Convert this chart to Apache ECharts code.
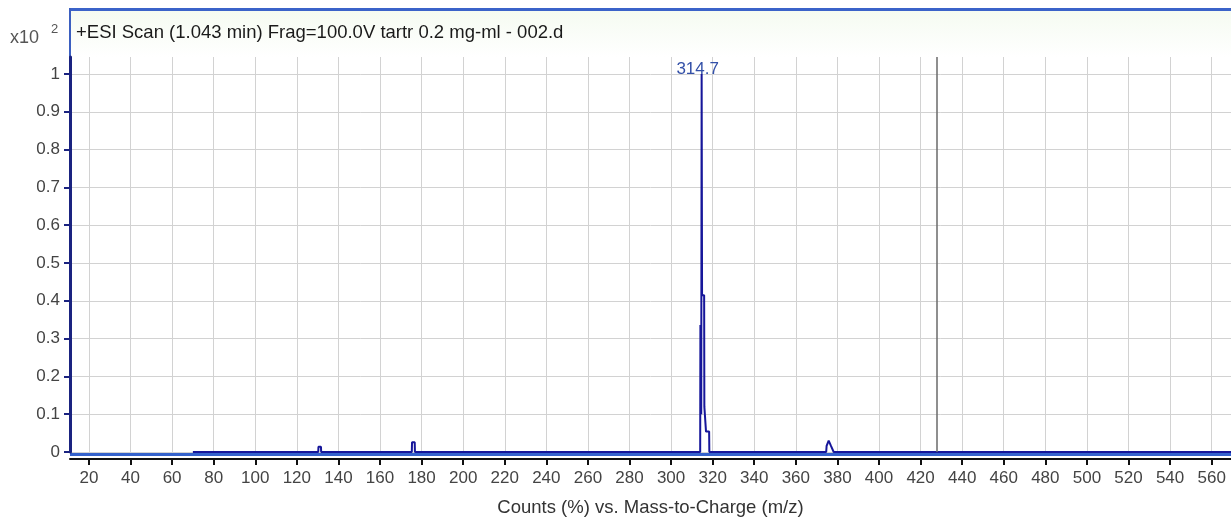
<!DOCTYPE html>
<html>
<head>
<meta charset="utf-8">
<title>ESI Scan</title>
<script src="https://cdn.jsdelivr.net/npm/echarts@6/dist/echarts.min.js"></script>
<style>
  html, body { margin: 0; padding: 0; background: #fff; }
  #chart { width: 1231px; height: 519px; }
</style>
</head>
<body>
<div id="chart"></div>
<script>
// spectrum (m/z, counts x10^2)
const mzValues = [70, 124.6, 124.7, 125.3, 125.4, 130.3, 130.4, 131.6, 131.7,
  175.3, 175.4, 176.7, 176.8, 223.6, 223.7, 224.4, 224.5, 270, 270.1, 270.9, 271,
  314.0, 314.1, 314.4, 314.5, 314.7, 314.9, 315.4, 315.9, 316.0, 316.7, 316.8, 317.6, 317.7, 318.3, 318.4,
  336.4, 336.5, 337, 337.1, 374.6, 374.8, 375.5, 375.8, 376.6, 376.9, 377.5, 377.8, 378.2, 569.3]
const intensities = [0, 0, 0.005, 0.005, 0, 0, 0.014, 0.014, 0,
  0, 0.026, 0.026, 0, 0, 0.005, 0.005, 0, 0, 0.005, 0.005, 0,
  0, 0.336, 0.336, 0.1, 1.0, 0.415, 0.415, 0.415, 0.12, 0.12, 0.054, 0.054, 0.054, 0.054, 0,
  0, 0.004, 0.004, 0, 0, 0.016, 0.016, 0.03, 0.03, 0.016, 0.016, 0.012, 0, 0]

const xTicks = [20, 40, 60, 80, 100, 120, 140, 160, 180, 200, 220, 240, 260, 280, 300,
  320, 340, 360, 380, 400, 420, 440, 460, 480, 500, 520, 540, 560]
const yTicks = [0, 0.1, 0.2, 0.3, 0.4, 0.5, 0.6, 0.7, 0.8, 0.9, 1]

const peakMz = 314.7
const peakValue = 1.0
const cursorMz = 428
const scanTitle = '+ESI Scan (1.043 min) Frag=100.0V tartr 0.2 mg-ml - 002.d'

const font = 'Liberation Sans'
const chart = echarts.init(document.getElementById('chart'))

const seriesData = mzValues.map((mz, i) => [mz, intensities[i]])

const option = {
  animation: false,
  backgroundColor: '#fff',
  grid: {
    left: 70,
    right: 0,
    top: 57,
    height: 395,
    outerBoundsMode: 'none',
    containLabel: false
  },
  xAxis: {
    type: 'value',
    min: 10.9,
    max: 569.3,
    offset: 7,
    name: 'Counts (%) vs. Mass-to-Charge (m/z)',
    nameLocation: 'middle',
    nameGap: 39,
    nameTextStyle: { color: '#333', fontSize: 18.5, fontFamily: font },
    axisLine: { show: true, onZero: false, lineStyle: { color: '#111', width: 2 } },
    axisTick: { show: true, length: 6, customValues: xTicks, lineStyle: { color: '#111', width: 2 } },
    axisLabel: {
      customValues: xTicks,
      color: '#444',
      fontSize: 17,
      fontFamily: font,
      margin: 11,
      formatter: v => String(Math.round(v))
    },
    splitLine: { show: true, lineStyle: { color: '#d2d2d2', width: 1 } }
  },
  yAxis: {
    type: 'value',
    min: 0,
    max: 1.045,
    axisLine: { show: true, lineStyle: { color: '#1a2380', width: 3 } },
    axisTick: { show: true, length: 6, customValues: yTicks, lineStyle: { color: '#1a2380', width: 2 } },
    axisLabel: {
      customValues: yTicks,
      color: '#444',
      fontSize: 17,
      fontFamily: font,
      margin: 10,
      formatter: v => String(+v.toFixed(1))
    },
    splitLine: { show: true, lineStyle: { color: '#d2d2d2', width: 1 } }
  },
  graphic: [
    // frame around the plot
    { type: 'rect', z: 0, shape: { x: 70, y: 10, width: 1161, height: 47 },
      style: { fill: new echarts.graphic.LinearGradient(0, 0, 0, 1, [
        { offset: 0, color: '#f5fbf1' }, { offset: 1, color: '#ffffff' }]) } },
    { type: 'rect', z: 0, shape: { x: 70, y: 8, width: 1161, height: 3 }, style: { fill: '#3b63c9' } },
    { type: 'rect', z: 0, shape: { x: 69, y: 8, width: 2, height: 50 }, style: { fill: '#3b5fc0' } },
    { type: 'rect', z: 0, shape: { x: 70, y: 452, width: 1161, height: 4 }, style: { fill: '#3462cc' } },
    { type: 'text', z: 5, left: 76, top: 23,
      style: { text: scanTitle, fill: '#1a1a1a', font: '18.5px "Liberation Sans"' } },
    { type: 'text', z: 5, left: 10, top: 29,
      style: { text: 'x10', fill: '#555', font: '18px "Liberation Sans"' } },
    { type: 'text', z: 5, left: 51, top: 23,
      style: { text: '2', fill: '#555', font: '13px "Liberation Sans"' } }
  ],
  series: [{
    type: 'line',
    data: seriesData,
    showSymbol: false,
    symbol: 'none',
    lineStyle: { color: '#16169a', width: 2 },
    itemStyle: { color: '#16169a' },
    z: 4,
    markPoint: {
      silent: true,
      symbol: 'circle',
      symbolSize: 0,
      label: {
        show: true,
        position: 'top',
        distance: -4,
        offset: [-4, 0],
        formatter: () => String(peakMz),
        color: '#3350a8',
        fontSize: 17,
        fontFamily: font
      },
      data: [{ coord: [peakMz, peakValue] }]
    },
    markLine: {
      silent: true,
      symbol: 'none',
      label: { show: false },
      lineStyle: { color: '#6a6a6a', width: 1.5, type: 'solid' },
      data: [{ xAxis: cursorMz }]
    }
  }]
}

chart.setOption(option)
</script>
</body>
</html>
